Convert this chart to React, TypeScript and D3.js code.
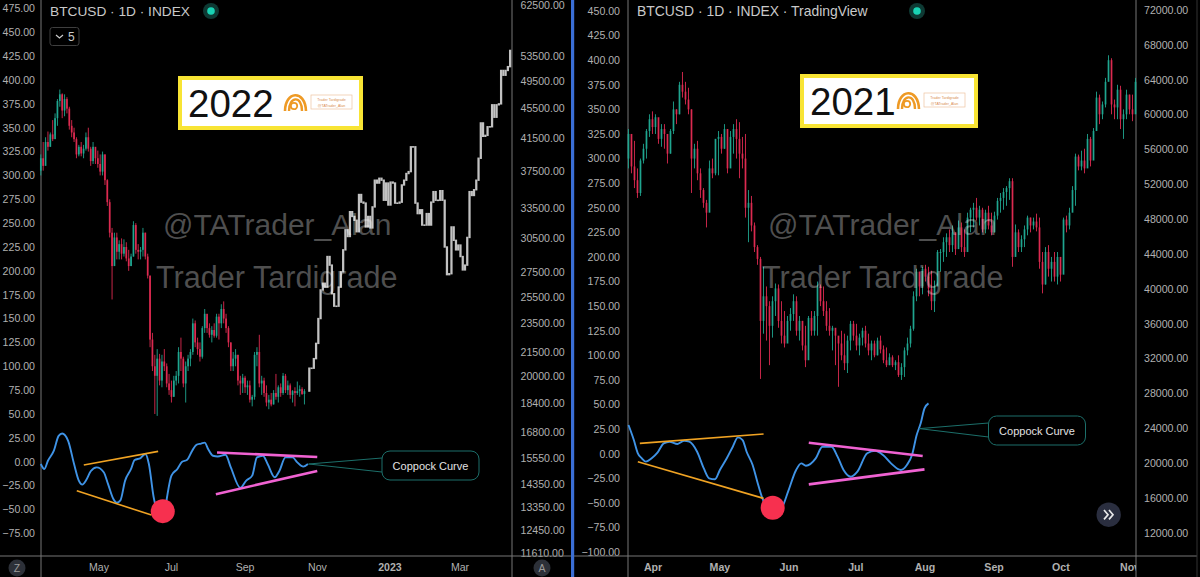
import React from "react";
import * as d3 from "d3";

const ticksLeft22 = d3.range(-75, 476, 25);
const ticksLeft21 = d3.range(-100, 451, 25);
const ticksPrice22 = [62500, 53500, 49500, 45500, 41500, 37500, 33500, 30500, 27500, 25500, 23500, 21500, 20000, 18400, 16800, 15550, 14350, 13350, 12450, 11610];
const ticksPrice21 = [72000, 68000, 64000, 60000, 56000, 52000, 48000, 44000, 40000, 36000, 32000, 28000, 24000, 20000, 16000, 12000];
const months22 = [["2022-05-01", "May"], ["2022-07-01", "Jul"], ["2022-09-01", "Sep"], ["2022-11-01", "Nov"], ["2023-01-01", "2023"], ["2023-03-01", "Mar"]];
const months21 = [["2021-04-01", "Apr"], ["2021-05-01", "May"], ["2021-06-01", "Jun"], ["2021-07-01", "Jul"], ["2021-08-01", "Aug"], ["2021-09-01", "Sep"], ["2021-10-01", "Oct"], ["2021-11-01", "Nov"]];

const high22 = [322,335,340,346,345,358,365,380,390,386,385,382,372,358,350,340,332,335,332,345,350,330,335,328,326,322,325,322,296,275,245,240,240,232,234,233,230,222,218,252,250,228,225,245,240,218,195,135,112,118,113,112,118,103,92,85,90,95,120,130,110,105,112,118,150,148,130,125,142,160,152,145,142,145,155,155,165,168,155,142,125,115,118,112,90,92,90,85,85,70,115,120,133,90,88,80,70,72,75,92,80,82,93,92,85,82,75,78,84,80,78,76];
const low22 = [300,305,318,326,330,336,342,352,372,360,362,365,348,340,335,318,320,320,318,326,325,310,312,312,308,300,300,290,268,235,170,210,212,212,212,215,210,200,205,215,218,212,212,215,212,192,120,95,50,48,80,78,95,78,70,62,68,80,82,95,78,62,95,100,112,120,112,105,108,135,135,130,125,130,130,128,140,145,135,120,95,95,100,80,70,72,72,70,62,58,65,100,78,70,68,58,55,58,60,65,62,68,70,72,70,66,62,58,70,68,70,60];
const close22 = [318,310,335,330,343,338,360,378,385,368,380,370,352,345,338,322,330,323,328,340,328,315,330,318,312,304,322,295,272,240,205,235,220,228,218,225,213,205,215,248,222,220,222,240,215,195,128,100,90,108,85,105,100,82,75,68,85,90,115,108,82,100,108,115,145,125,118,110,140,155,140,133,138,132,152,145,160,150,140,125,100,108,112,85,82,88,78,80,65,68,112,115,82,85,72,62,65,60,72,68,78,72,90,75,80,70,74,72,74,76,71,74];
const grey22 = [98,98,108,124,150,180,187,183,215,206,176,163,163,183,199,222,243,236,262,257,253,241,280,272,271,246,257,245,267,295,292,297,295,274,292,269,293,292,271,271,272,290,295,302,304,330,330,271,260,264,248,248,260,248,272,283,274,274,284,274,225,196,197,246,232,222,227,215,201,206,235,283,279,285,295,318,355,341,342,351,351,374,361,374,375,410,405,410,414,431];

const high21 = [330,325,318,290,300,315,330,345,348,345,338,335,335,325,330,358,350,378,388,378,372,350,315,318,290,270,258,298,300,320,328,325,335,330,328,335,340,337,322,325,268,262,235,212,200,190,170,155,160,173,172,155,145,140,148,162,160,140,135,130,140,145,145,175,172,170,155,148,130,125,115,125,122,120,135,135,132,122,128,130,122,115,115,118,120,110,108,102,100,95,100,92,108,118,130,165,188,185,190,192,190,186,176,207,208,220,224,228,232,225,237,235,228,245,250,255,260,252,250,248,252,245,246,260,265,270,272,280,280,233,228,222,232,242,240,240,244,240,205,210,212,200,205,205,200,240,242,250,272,305,304,308,310,325,322,331,368,365,358,382,405,402,360,375,374,350,370,365,365,382];
const low21 = [290,285,270,260,262,295,300,322,325,325,315,312,310,295,305,325,335,345,362,355,345,265,290,278,260,250,230,275,280,283,283,305,310,285,295,305,300,280,290,240,215,226,205,192,76,122,115,90,118,140,128,112,108,118,125,135,120,115,105,88,100,120,120,120,150,140,125,120,105,90,68,95,85,82,105,115,105,100,110,108,100,95,98,100,102,92,88,90,88,85,78,75,78,100,108,125,155,160,162,175,160,146,144,187,185,195,200,205,205,202,208,205,200,205,225,230,237,232,225,224,228,222,225,238,245,248,252,258,190,217,205,205,210,222,225,228,226,188,163,172,180,175,175,172,175,198,225,228,250,252,288,288,285,295,292,318,336,335,340,352,380,345,340,340,330,320,340,345,338,348];
const close21 = [325,292,278,265,298,310,328,340,332,342,320,330,325,305,328,350,345,375,368,360,350,300,310,285,268,255,245,290,285,320,322,310,330,290,322,330,320,305,300,250,255,232,210,198,135,160,150,130,155,168,135,120,112,135,142,155,125,135,110,95,138,125,140,170,155,145,130,125,128,120,112,100,92,115,132,120,110,118,125,112,105,112,100,115,106,95,90,98,90,93,80,88,105,112,127,160,185,170,188,180,168,155,170,205,205,215,220,212,225,208,230,210,205,240,248,250,240,248,228,245,232,225,242,257,260,266,270,277,200,225,210,218,228,240,232,236,230,195,172,205,188,195,180,200,182,238,232,245,268,302,292,298,290,320,298,328,362,345,355,378,400,355,352,370,340,345,365,350,345,378];

const coppockDays22 = [0,3,6,11,15,18,23,28,32,35,38,42,47,53,56.5,61,64,67,71,76,79,84,88,91,95,99.5,104,106.3,110,115,119,123,127.5,131,135,138,141,145,149,155.5,160,168,173,178,182,187,191,197,201,206,212,216,221,225];
const coppockValues22 = [-2.4,-7.6,1,11.5,27,29.5,21.9,-2.4,-19.8,-24,-19.8,-10,-5.9,-11,-23,-38.9,-43,-40.6,-19.8,-7.6,1.7,3.8,8,-2.4,-37,-56,-56,-37,-14.6,-7.6,0,1.7,11.5,17.7,19,20,13,6.2,5.5,7.3,-5.9,-27.4,-19.8,-14.6,4.5,6.2,-2.4,-16.3,-9.4,4.5,4.5,-0.7,-5.2,-2.4];
const coppockDays21 = [0,2.4,4.2,6,7.8,10.4,13,15.8,18.4,22,25,27.3,30.8,33.8,36.2,38.8,41,44.1,46.8,49.1,51.2,53,55.7,57.8,60.1,64.5,69,71.6,75.2,77.5,79.6,84,87,91.1,93.8,96.5,99.7,102.7,107.1,110.7,114.2,117.8,122.2,124.9,127.2,129.3,131.1,132.8,134.6];
const coppockValues21 = [29.2,13.9,0.4,-4.7,-8.1,-4.7,1,10.5,12.2,9.9,13.2,12.2,2,-14.9,-25,-26,-16.6,-4.7,7.1,16.6,13.9,2,-11.5,-28.5,-45.4,-60.7,-53.9,-38.6,-16.6,-9.8,-12.2,-4.7,7.1,7.1,-3,-16.6,-23.4,-18.3,0.4,3,-1.3,-9.8,-16.6,-11.5,-1.3,19,30.9,46.1,51.2];

// Trend lines as [day, value, day, value]
const orange22 = [[36.2, -3.5, 98.8, 10.8], [30.3, -30.5, 93.2, -55.9]];
const pink22 = [[148.4, 9.7, 232.8, 4.9], [147.4, -34, 232.8, -9.7]];
const orange21 = [[5.1, 10.5, 60.6, 20], [4.2, -8.1, 60.6, -45.4]];
const pink21 = [[80.9, 11.2, 132, -2.4], [80.9, -31.2, 132.8, -15.9]];
const dot22 = [102.7, -51.8];
const dot21 = [64.7, -54.9];
const anchor22 = [225.5, -2.4];
const anchor21 = [130.5, 25.5];

const TEAL = "#1fa58f";
const RED = "#dc2a50";
const AXIS = "#777";
const LABEL = "#b0b0b0";
const FONT = "'Liberation Sans', Arial, sans-serif";
const DAY = 864e5;
const fmt = (v: number) => d3.format(".2f")(v).replace("-", "\u2212");

type PanelProps = {
  id: string; axisL: number; axisR: number; labelLeftEnd: number; labelRightStart: number; bold: boolean;
  x: any; yL: any; yP: any; ticksL: number[]; ticksP: number[]; months: string[][];
  start: string; high: number[]; low: number[]; close: number[]; step: number; open0: number;
  grey?: number[]; greyStart?: number; greyStep?: number;
  cDays: number[]; cVals: number[]; orange: number[][]; pink: number[][]; dot: number[];
  anchor: number[]; box: { x: number; y: number; w: number; h: number };
};

function Panel(p: PanelProps) {
  const t0 = Date.parse(p.start + "T00:00:00Z");
  const X = (day: number) => p.x(new Date(t0 + day * DAY));
  const line = d3.line<number>().x((_, i) => X(p.cDays[i])).y((v) => p.yL(v)).curve(d3.curveMonotoneX);
  const seg = (s: number[], col: string, w: number, k: string) => (
    <line key={k} x1={X(s[0])} y1={p.yL(s[1])} x2={X(s[2])} y2={p.yL(s[3])} stroke={col} strokeWidth={w} />
  );
  const ax = X(p.anchor[0]);
  const ay = p.yL(p.anchor[1]);
  const b = p.box;
  const bodyW = 1.7;
  return (
    <g>
      <clipPath id={p.id}><rect x={p.axisL} y={556} width={p.axisR - p.axisL} height={21} /></clipPath>
      {p.ticksL.map((v) => (
        <text key={v} x={p.labelLeftEnd} y={p.yL(v) + 3.8} textAnchor="end" fontSize={10.6} fill={LABEL} fontFamily={FONT}>{fmt(v)}</text>
      ))}
      {p.ticksP.map((v) => (
        <text key={v} x={p.labelRightStart} y={p.yP(v) + 3.8} fontSize={10.6} fill={LABEL} fontFamily={FONT}>{fmt(v)}</text>
      ))}
      <line x1={p.axisL} x2={p.axisL} y1={0} y2={577} stroke={AXIS} />
      <line x1={p.axisR} x2={p.axisR} y1={0} y2={577} stroke={AXIS} />
      <g clipPath={`url(#${p.id})`}>
        {p.months.map(([d, t]) => (
          <text key={d} x={p.x(new Date(d + "T00:00:00Z"))} y={571} textAnchor="middle" fontSize={10.6} fill={LABEL}
            fontWeight={p.bold || t === "2023" ? 700 : 400} fontFamily={FONT}>{t}</text>
        ))}
      </g>
      {p.close.map((c, i) => {
        const o = i === 0 ? p.open0 : p.close[i - 1];
        const col = c >= o ? TEAL : RED;
        const cx = X(i * p.step);
        const top = p.yL(Math.max(o, c));
        const bot = p.yL(Math.min(o, c));
        return (
          <g key={i}>
            <line x1={cx} x2={cx} y1={p.yL(p.high[i])} y2={p.yL(p.low[i])} stroke={col} strokeWidth={0.9} />
            <rect x={cx - bodyW / 2} y={top} width={bodyW} height={Math.max(1, bot - top)} fill={col} />
          </g>
        );
      })}
      {p.grey && p.grey.map((c, i) => {
        const o = i === 0 ? p.close[p.close.length - 1] : p.grey![i - 1];
        const cx = X(p.greyStart! + i * p.greyStep!);
        const w = X(p.greyStart! + (i + 1) * p.greyStep!) - cx;
        const top = p.yL(Math.max(o, c));
        const bot = p.yL(Math.min(o, c));
        return <rect key={i} x={cx - 1} y={top - 0.7} width={w} height={Math.max(1.6, bot - top + 1.4)} fill="#c2c2c2" />;
      })}
      <path d={line(p.cVals) || ""} fill="none" stroke="#3f93e6" strokeWidth={1.9} />
      {p.orange.map((s, i) => seg(s, "#f0a323", 1.6, "o" + i))}
      {p.pink.map((s, i) => seg(s, "#f062d2", 2.6, "p" + i))}
      <circle cx={X(p.dot[0])} cy={p.yL(p.dot[1])} r={12} fill="#f7304f" />
      <path d={`M${ax},${ay} L${b.x},${b.y + 7} M${ax},${ay} L${b.x},${b.y + b.h - 8}`} stroke="#1c6f6a" strokeWidth={1} fill="none" />
      <rect x={b.x} y={b.y} width={b.w} height={b.h} rx={8} fill="#000" stroke="#1c6f6a" strokeWidth={1} />
      <text x={b.x + b.w / 2} y={b.y + b.h / 2 + 4} textAnchor="middle" fontSize={11} fill="#e2e2e2" fontFamily={FONT}>Coppock Curve</text>
    </g>
  );
}

function YearBox({ x, y, w, h, year, textX, logoX, tagX }: any) {
  return (
    <g>
      <rect x={x + 2} y={y + 2} width={w - 4} height={h - 4} fill="#fff" stroke="#f8e434" strokeWidth={4} />
      <text x={textX} y={y + h / 2 + 13.5} fontSize={38.5} fill="#111" fontFamily={FONT}>{year}</text>
      <g transform={`translate(${logoX},${y + 35})`} fill="none" stroke="#ee9a25">
        <path d="M0,0 C0,-20 20,-22 21,0" strokeWidth={2.6} />
        <path d="M4,0 C4,-15 17,-16 17,0" strokeWidth={2.4} />
        <circle cx={9} cy={-5} r={3.2} strokeWidth={1.8} />
      </g>
      <rect x={tagX} y={y + 19} width={41} height={14} fill="#fff" stroke="#eec3a0" strokeWidth={0.7} />
      <text x={tagX + 20.5} y={y + 24.8} textAnchor="middle" fontSize={3.6} fill="#d98a50" fontFamily={FONT}>Trader Tardigrade</text>
      <text x={tagX + 20.5} y={y + 30.5} textAnchor="middle" fontSize={3.6} fill="#d98a50" fontFamily={FONT}>@TATrader_Alan</text>
    </g>
  );
}

function Watermark({ x1, x2 }: { x1: number; x2: number }) {
  return (
    <g fontFamily={FONT} fill="#fff" fillOpacity={0.31}>
      <text x={x1} y={235} fontSize={30}>@TATrader_Alan</text>
      <text x={x2} y={288} fontSize={30.6}>Trader Tardigrade</text>
    </g>
  );
}

export default function App() {
  const x22 = d3.scaleUtc().domain([new Date("2022-05-01T00:00:00Z"), new Date("2023-03-01T00:00:00Z")]).range([99, 460]);
  const x21 = d3.scaleUtc().domain([new Date("2021-04-01T00:00:00Z"), new Date("2021-11-01T00:00:00Z")]).range([653, 1130]);
  const yL22 = d3.scaleLinear().domain([0, 400]).range([461.7, 80]);
  const yL21 = d3.scaleLinear().domain([0, 450]).range([453.7, 11]);
  const yP22 = d3.scaleLog().domain([18400, 53500]).range([403, 56]);
  const yP21 = d3.scaleLinear().domain([12000, 72000]).range([533, 10]);
  return (
    <svg width={1200} height={577} viewBox="0 0 1200 577" style={{ position: "fixed", left: 0, top: 0, background: "#000" }}>
      <rect width={1200} height={577} fill="#000" />
      <Panel id="clipA" axisL={41} axisR={512} labelLeftEnd={35} labelRightStart={520.5} bold={false} x={x22} yL={yL22} yP={yP22}
        ticksL={ticksLeft22} ticksP={ticksPrice22} months={months22} start="2022-03-13" high={high22} low={low22} close={close22}
        step={2} open0={305} grey={grey22} greyStart={226} greyStep={1.9} cDays={coppockDays22} cVals={coppockValues22}
        orange={orange22} pink={pink22} dot={dot22} anchor={anchor22} box={{ x: 382, y: 451, w: 97, h: 29 }} />
      <Panel id="clipB" axisL={628} axisR={1136} labelLeftEnd={620} labelRightStart={1144} bold={true} x={x21} yL={yL21} yP={yP21}
        ticksL={ticksLeft21} ticksP={ticksPrice21} months={months21} start="2021-03-21" high={high21} low={low21} close={close21}
        step={1.346} open0={300} cDays={coppockDays21} cVals={coppockValues21}
        orange={orange21} pink={pink21} dot={dot21} anchor={anchor21} box={{ x: 988.5, y: 416, w: 97, h: 29 }} />

      <Watermark x1={163} x2={156} />
      <Watermark x1={768} x2={762} />

      <line x1={0} x2={1197} y1={556} y2={556} stroke={AXIS} />
      <rect x={571} y={0} width={3.2} height={577} fill="#3a6ed6" />
      <rect x={1196.5} y={0} width={1} height={577} fill="#333" />

      <text x={50} y={16} fontSize={13.7} fill="#c9c9c9" fontFamily={FONT}>BTCUSD · 1D · INDEX</text>
      <circle cx={211} cy={11} r={8} fill="#0e3a34" />
      <circle cx={211} cy={11} r={3.8} fill="#19d3b4" />
      <text x={637} y={16} fontSize={13.9} fill="#c9c9c9" fontFamily={FONT}>BTCUSD · 1D · INDEX · TradingView</text>
      <circle cx={917} cy={11} r={8} fill="#0e3a34" />
      <circle cx={917} cy={11} r={3.8} fill="#19d3b4" />

      <rect x={50} y={27.5} width={29} height={18} rx={2.5} fill="none" stroke="#3f3f3f" />
      <path d="M56,35 L59.5,38 L63,35" fill="none" stroke="#ccc" strokeWidth={1.2} />
      <text x={68} y={41} fontSize={12} fill="#c9c9c9" fontFamily={FONT}>5</text>

      <YearBox x={178} y={76} w={185} h={54} year="2022" textX={188} logoX={285} tagX={311} />
      <YearBox x={800} y={74} w={178} h={54} year="2021" textX={810} logoX={898} tagX={924} />

      <circle cx={17} cy={568} r={8.5} fill="#2c3038" />
      <text x={17} y={572} textAnchor="middle" fontSize={10.5} fill="#9a9a9a" fontFamily={FONT}>Z</text>
      <circle cx={542} cy={568} r={8.5} fill="#2c3038" />
      <text x={542} y={572} textAnchor="middle" fontSize={10.5} fill="#9a9a9a" fontFamily={FONT}>A</text>

      <circle cx={1108.7} cy={514.7} r={12.2} fill="#2a2e3f" />
      <path d="M1104,510 L1108,514.7 L1104,519.4 M1109,510 L1113,514.7 L1109,519.4" fill="none" stroke="#e8e8e8" strokeWidth={1.7} />
    </svg>
  );
}
